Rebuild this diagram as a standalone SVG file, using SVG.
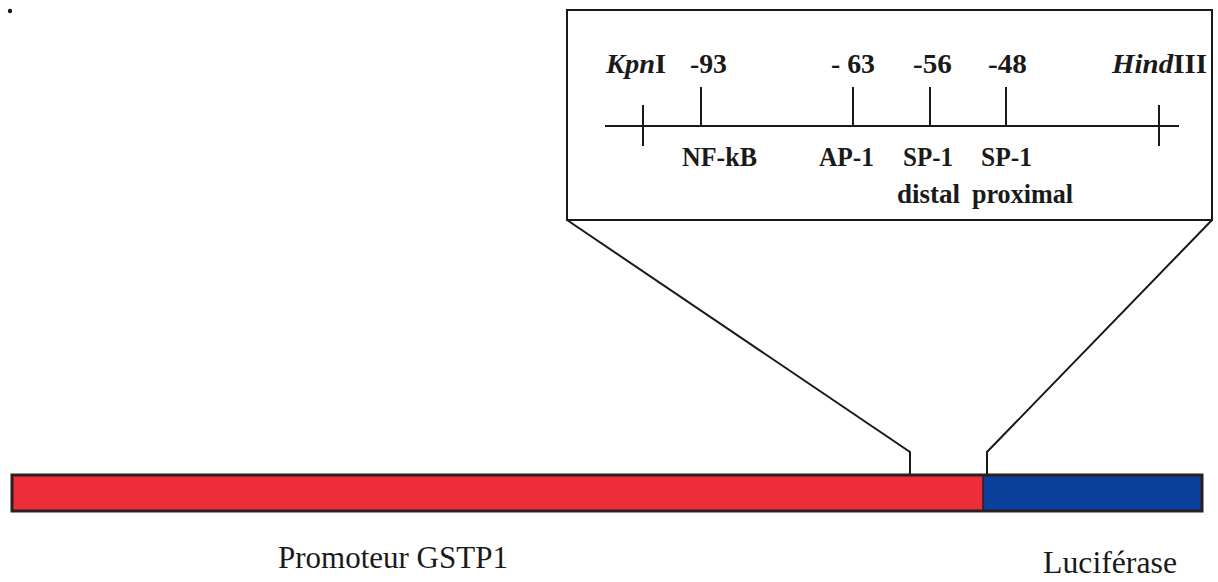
<svg xmlns="http://www.w3.org/2000/svg" width="1218" height="582" viewBox="0 0 1218 582">
<style>
.ln{stroke:#1a1a1a;stroke-width:2;fill:none}
.b{font-family:"Liberation Serif",serif;font-weight:bold;font-size:27px;fill:#1a1a1a}
.n{font-family:"Liberation Serif",serif;font-size:31px;fill:#1a1a1a}
</style>
<rect width="1218" height="582" fill="#fff"/>
<circle cx="10" cy="11" r="2.2" fill="#1a1a1a"/>
<g id="zoom-box">
<rect x="567" y="10" width="645" height="210" class="ln"/>
<line x1="605" y1="126" x2="1179" y2="126" class="ln"/>
<line x1="643" y1="105" x2="643" y2="146" class="ln"/>
<line x1="1159" y1="105" x2="1159" y2="146" class="ln"/>
<line x1="701" y1="87" x2="701" y2="126" class="ln"/>
<line x1="853" y1="87" x2="853" y2="126" class="ln"/>
<line x1="930" y1="87" x2="930" y2="126" class="ln"/>
<line x1="1006" y1="87" x2="1006" y2="126" class="ln"/>
<text x="606" y="73" class="b" textLength="60" lengthAdjust="spacingAndGlyphs"><tspan font-style="italic">Kpn</tspan>I</text>
<text x="690" y="73" class="b" textLength="37" lengthAdjust="spacingAndGlyphs">-93</text>
<text x="831" y="73" class="b" textLength="44" lengthAdjust="spacingAndGlyphs">- 63</text>
<text x="913" y="73" class="b" textLength="39" lengthAdjust="spacingAndGlyphs">-56</text>
<text x="988" y="73" class="b" textLength="39" lengthAdjust="spacingAndGlyphs">-48</text>
<text x="1112" y="73" class="b" textLength="95" lengthAdjust="spacingAndGlyphs"><tspan font-style="italic">Hind</tspan>III</text>
<text x="682" y="166" class="b" textLength="75" lengthAdjust="spacingAndGlyphs">NF-kB</text>
<text x="819" y="166" class="b" textLength="55" lengthAdjust="spacingAndGlyphs">AP-1</text>
<text x="903" y="166" class="b" textLength="50" lengthAdjust="spacingAndGlyphs">SP-1</text>
<text x="981" y="166" class="b" textLength="51" lengthAdjust="spacingAndGlyphs">SP-1</text>
<text x="897" y="203" class="b">distal</text>
<text x="972" y="203" class="b" textLength="101" lengthAdjust="spacingAndGlyphs">proximal</text>
</g>
<g id="connectors">
<polyline points="567,220 910,452 910,475" class="ln"/>
<polyline points="1212,220 987,452 987,475" class="ln"/>
</g>
<g id="bar">
<rect x="12" y="475" width="971" height="36" fill="#ee2d3b"/>
<rect x="983" y="475" width="219" height="36" fill="#0b3f9c"/>
<rect x="12" y="475" width="1190" height="36" fill="none" stroke="#2a2020" stroke-width="3"/>
<line x1="983" y1="475" x2="983" y2="511" stroke="#2a2020" stroke-width="1.5"/>
</g>
<text x="278" y="568" class="n">Promoteur GSTP1</text>
<text x="1043" y="573" class="n" textLength="134" lengthAdjust="spacingAndGlyphs">Luciférase</text>
</svg>
